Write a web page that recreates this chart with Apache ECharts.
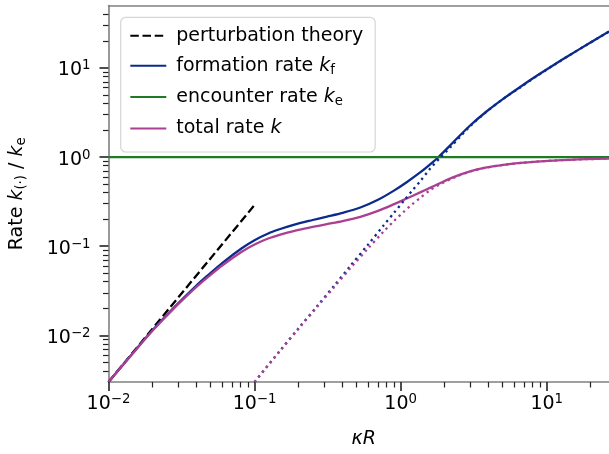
<!DOCTYPE html>
<html><head><meta charset="utf-8">
<script src="https://cdn.jsdelivr.net/npm/echarts@6/dist/echarts.min.js"></script>
<style>html,body{margin:0;padding:0;background:#fff}#c{width:609px;height:454px}</style>
</head><body><div id="c"></div>
<script>
const FONT = 'DejaVu Sans';
const xRange = [0.01, 26.7];
const yRange = [0.003, 50.2];
const xMajorTicks = [0.01, 0.1, 1, 10];
const xTickExp = ['\u22122', '\u22121', '0', '1'];
const yMajorTicks = [0.01, 0.1, 1, 10];
const yTickExp = ['\u22122', '\u22121', '0', '1'];
const xMinorTicks = [0.02,0.03,0.04,0.05,0.06,0.07,0.08,0.09,0.2,0.3,0.4,0.5,0.6,0.7,0.8,0.9,2,3,4,5,6,7,8,9,20];
const yMinorTicks = [0.004,0.005,0.006,0.007,0.008,0.009,0.02,0.03,0.04,0.05,0.06,0.07,0.08,0.09,0.2,0.3,0.4,0.5,0.6,0.7,0.8,0.9,2,3,4,5,6,7,8,9,20,30,40];

const seriesNames = ['perturbation theory', 'formation rate', 'encounter rate', 'total rate'];

const pertX = [0.01, 0.1];
const pertY = [0.003, 0.29];

const rateX = [0.01,0.015,0.02,0.0286,0.04,0.0483,0.06,0.0817,0.1,0.124,0.15,0.185,0.25,0.313,0.4,0.53,0.7,0.894,1.1,1.36,1.6,1.818,2.3,2.99,3.89,5.06,6.58,8.55,11.1,14.4,18.8,26.7];
const formationY = [0.003,0.0066,0.0114,0.0212,0.0363,0.0478,0.0648,0.095,0.117,0.139,0.156,0.174,0.197,0.215,0.237,0.272,0.332,0.418,0.523,0.673,0.835,1.003,1.478,2.262,3.269,4.531,6.127,8.163,10.735,13.98,18.2,25.63];
const totalY = [0.003,0.00656,0.01127,0.02076,0.03503,0.04562,0.06086,0.08676,0.1047,0.122,0.135,0.1482,0.1646,0.177,0.1916,0.2138,0.2494,0.2948,0.3434,0.4023,0.455,0.5007,0.5965,0.6935,0.7658,0.8192,0.8597,0.8909,0.9148,0.9332,0.9479,0.9625];

const encounterX = [0.01, 26.7];
const encounterY = [1, 1];

const asymX = [0.1,0.15,0.2,0.268,0.35,0.452,0.6,0.764,0.9,1.05,1.2,1.36,1.59,1.87,2.2,2.56,2.99,3.89,5.06,6.58,8.55,11.1,14.4,18.8,26.7];
const formationAsymY = [0.003,0.0068,0.012,0.0213,0.036,0.06,0.105,0.171,0.237,0.322,0.42,0.535,0.74,0.99,1.3,1.7,2.22,3.25,4.52,6.04,8.1,10.7,13.95,18.18,25.6];
const totalAsymY = [0.003,0.00675,0.01186,0.02086,0.03475,0.0566,0.095,0.146,0.1916,0.2436,0.2958,0.3485,0.4253,0.4975,0.5652,0.6296,0.6894,0.7647,0.8188,0.858,0.8901,0.9145,0.9331,0.9479,0.9624];

const C_BLUE = '#0b2a8c', C_GREEN = '#1e7a24', C_MAG = '#ab3f92';

function pairs(xs, ys) { return xs.map((x, i) => [x, ys[i]]); }
const L = Math.log10;
function expLabel(v, ticks, labels) {
  let best = -1;
  ticks.forEach((t, i) => { if (Math.abs(L(t) - v) < 1e-6) best = i; });
  return best < 0 ? '' : '{b|10}{s|' + labels[best] + '}';
}
const supRich = {
  b: { fontFamily: FONT, fontSize: 19, lineHeight: 22, verticalAlign: 'middle', color: '#000' },
  s: { fontFamily: FONT, fontSize: 13.3, lineHeight: 12, verticalAlign: 'top', color: '#000' }
};
const spine = { show: true, onZero: false, lineStyle: { color: '#808080', width: 1.6 } };
const off = { show: false };
const tickAxis = (extentLog, pos, ticks, len, w, label) => ({
  type: 'value', min: extentLog[0], max: extentLog[1], position: pos,
  axisLine: { show: false, onZero: false },
  axisTick: { show: true, interval: 0, customValues: ticks, length: len, lineStyle: { color: '#222', width: w } },
  axisLabel: label || { show: true, customValues: ticks, formatter: () => '', hideOverlap: false },
  splitLine: off, splitArea: off
});

const xLog = [L(xRange[0]), L(xRange[1])];
const yLog = [L(yRange[0]), L(yRange[1])];

const chart = echarts.init(document.getElementById('c'), null, { renderer: 'canvas' });
chart.setOption({
  animation: false,
  backgroundColor: '#ffffff',
  grid: { left: 108, right: 0, top: 5.5, bottom: 70.7, containLabel: false },
  xAxis: [
    { type: 'log', logBase: 10, min: xRange[0], max: xRange[1], position: 'bottom',
      axisLine: spine, axisTick: off, axisLabel: off, splitLine: off,
      name: '{i|\u03baR}', nameLocation: 'middle', nameGap: 48,
      nameTextStyle: { padding: [0, 0, 0, 10], rich: { i: { fontFamily: FONT, fontSize: 19, fontStyle: 'italic', color: '#000' } } } },
    tickAxis(xLog, 'bottom', xMajorTicks.map(L), 9, 1.6,
      { show: true, customValues: xMajorTicks.map(L), margin: 11, showMinLabel: true, showMaxLabel: true,
        formatter: v => expLabel(v, xMajorTicks, xTickExp), rich: supRich }),
    tickAxis(xLog, 'bottom', xMinorTicks.map(L), 5.5, 1.2),
    { type: 'log', logBase: 10, min: xRange[0], max: xRange[1], position: 'top',
      axisLine: spine, axisTick: off, axisLabel: off, splitLine: off }
  ],
  yAxis: [
    { type: 'log', logBase: 10, min: yRange[0], max: yRange[1], position: 'left',
      axisLine: spine, axisTick: off, axisLabel: off, splitLine: off,
      name: '{r|Rate }{i|k}{sub|(\u00b7)}{r| / }{i|k}{sub|e}', nameLocation: 'middle', nameGap: 80, nameRotate: 90,
      nameTextStyle: { rich: {
        r: { fontFamily: FONT, fontSize: 19, lineHeight: 22, verticalAlign: 'middle', color: '#000' },
        i: { fontFamily: FONT, fontSize: 19, lineHeight: 22, fontStyle: 'italic', verticalAlign: 'middle', color: '#000' },
        sub: { fontFamily: FONT, fontSize: 13.3, lineHeight: 10, verticalAlign: 'bottom', color: '#000' } } } },
    tickAxis(yLog, 'left', yMajorTicks.map(L), 9, 1.6,
      { show: true, customValues: yMajorTicks.map(L), margin: 18, padding: [5, 0, 0, 0], showMinLabel: true, showMaxLabel: true,
        formatter: v => expLabel(v, yMajorTicks, yTickExp), rich: supRich }),
    tickAxis(yLog, 'left', yMinorTicks.map(L), 5.5, 1.2)
  ],
  legend: {
    data: seriesNames, orient: 'vertical', left: 120.7, top: 17.3,
    padding: [9, 12, 14, 8.6], itemGap: 10.9, itemWidth: 36, itemHeight: 14,
    backgroundColor: 'rgba(255,255,255,0.85)', borderColor: '#d6d6d6', borderWidth: 1.2, borderRadius: 5,
    selectedMode: false,
    itemStyle: { opacity: 0 },
    formatter: name => {
      if (name === 'formation rate') return '{t|formation rate }{i|k}{sub|f}';
      if (name === 'encounter rate') return '{t|encounter rate }{i|k}{sub|e}';
      if (name === 'total rate') return '{t|total rate }{i|k}';
      return '{t|' + name + '}';
    },
    textStyle: { fontFamily: FONT, fontSize: 19, color: '#000', rich: {
      t: { fontFamily: FONT, fontSize: 19, lineHeight: 22, verticalAlign: 'middle', color: '#000', padding: [0, 0, 0, 5] },
      i: { fontFamily: FONT, fontSize: 19, lineHeight: 22, fontStyle: 'italic', verticalAlign: 'middle', color: '#000' },
      sub: { fontFamily: FONT, fontSize: 13.3, lineHeight: 10, verticalAlign: 'bottom', color: '#000' } } }
  },
  series: [
    { name: 'perturbation theory', type: 'line', data: pairs(pertX, pertY), symbol: 'none', z: 3,
      lineStyle: { color: '#000', width: 2.3, type: [8.5, 3.7] }, itemStyle: { color: '#000' } },
    { name: 'formation rate', type: 'line', data: pairs(rateX, formationY), symbol: 'none', smooth: 0.3, z: 3,
      lineStyle: { color: C_BLUE, width: 2.3 }, itemStyle: { color: C_BLUE } },
    { name: 'encounter rate', type: 'line', data: pairs(encounterX, encounterY), symbol: 'none', z: 3,
      lineStyle: { color: C_GREEN, width: 2.3 }, itemStyle: { color: C_GREEN } },
    { name: 'total rate', type: 'line', data: pairs(rateX, totalY), symbol: 'none', smooth: 0.3, z: 3,
      lineStyle: { color: C_MAG, width: 2.3 }, itemStyle: { color: C_MAG } },
    { name: 'formation asymptote', type: 'line', data: pairs(asymX, formationAsymY), symbol: 'none', smooth: 0.3, z: 3,
      lineStyle: { color: C_BLUE, width: 2.3, type: [2.3, 3.8] }, itemStyle: { color: C_BLUE } },
    { name: 'total asymptote', type: 'line', data: pairs(asymX, totalAsymY), symbol: 'none', smooth: 0.3, z: 3,
      lineStyle: { color: C_MAG, width: 2.3, type: [2.3, 3.8] }, itemStyle: { color: C_MAG } }
  ]
});
</script></body></html>
